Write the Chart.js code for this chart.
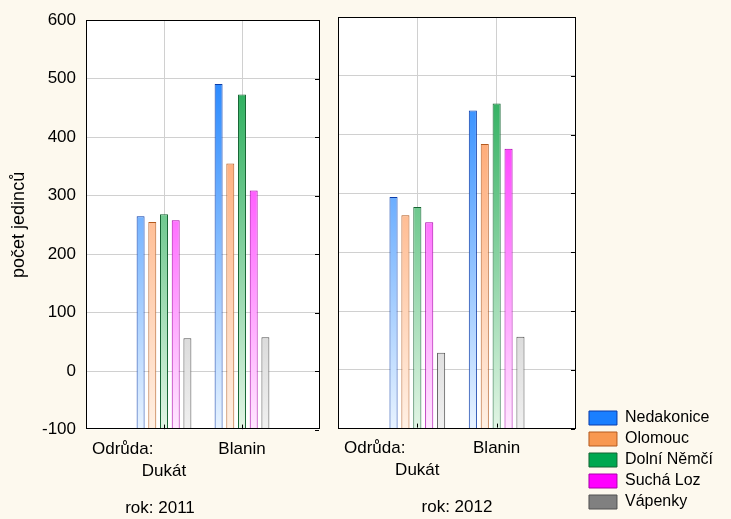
<!DOCTYPE html>
<html>
<head>
<meta charset="utf-8">
<script src="https://cdn.jsdelivr.net/npm/chart.js@4.4.1/dist/chart.umd.min.js"></script>
<style>
  body { margin: 0; background: #fdf9ee; }
  #wrap { position: relative; width: 731px; height: 519px; }
  canvas { position: absolute; top: 0; }
  #c2011 { left: 0; }
  #c2012 { left: 330px; }
</style>
</head>
<body>
<div id="wrap">
  <canvas id="c2011" width="330" height="519"></canvas>
  <canvas id="c2012" width="401" height="519"></canvas>
</div>
<script>
// kategorie na ose x a lokality (řady)
const odrudy = ['Dukát', 'Blanin'];
const lokality = ['Nedakonice', 'Olomouc', 'Dolní Němčí', 'Suchá Loz', 'Vápenky'];

// počet jedinců 2011 (Dukát, Blanin)
const nedakonice2011 = [265, 491];
const olomouc2011 = [255, 355];
const dolniNemci2011 = [268, 473];
const suchaLoz2011 = [258, 309];
const vapenky2011 = [56, 58];

// počet jedinců 2012 (Dukát, Blanin)
const nedakonice2012 = [294, 441];
const olomouc2012 = [263, 384];
const dolniNemci2012 = [277, 453];
const suchaLoz2012 = [251, 376];
const vapenky2012 = [29, 56];

// osa y
const yMin = -100;
const yMax = 600;
const yStep = 100;

// barvy
const topColors = ['rgb(10,120,255)', 'rgb(255,143,75)', 'rgb(9,161,67)', 'rgb(255,0,255)', 'rgb(150,150,150)'];
const bottomColors = ['rgb(232,243,255)', 'rgb(255,240,228)', 'rgb(226,245,229)', 'rgb(255,232,255)', 'rgb(240,240,240)'];
const borderColors = ['rgb(10,60,170)', 'rgb(180,90,30)', 'rgb(20,100,50)', 'rgb(170,0,170)', 'rgb(80,80,80)'];
const legendColors = ['#1a7fff', '#f89850', '#00a850', '#ff00ff', '#808080'];
const gridColor = '#d0d0d0';

Chart.defaults.font.family = '"Liberation Sans", Arial, sans-serif';
Chart.defaults.color = '#000';

function gradientFill(i) {
  return (c) => {
    const area = c.chart.chartArea;
    if (!area) return topColors[i];
    const g = c.chart.ctx.createLinearGradient(0, area.top, 0, area.bottom);
    g.addColorStop(0, topColors[i]);
    g.addColorStop(1, bottomColors[i]);
    return g;
  };
}

// bílé pozadí, rámeček, vnitřní značky a popisek "Odrůda:"
const frame = {
  id: 'frame',
  beforeDraw(chart) {
    const { ctx, chartArea: a } = chart;
    ctx.save();
    ctx.fillStyle = '#fff';
    ctx.fillRect(a.left, a.top, a.width, a.height);
    ctx.restore();
  },
  afterDatasetsDraw(chart) {
    const { ctx, chartArea: a, scales } = chart;
    ctx.save();
    ctx.strokeStyle = '#000';
    ctx.lineWidth = 1;
    ctx.strokeRect(Math.round(a.left) + 0.5, Math.round(a.top) + 0.5, Math.round(a.width) - 1, Math.round(a.height) - 1);
    ctx.beginPath();
    scales.y.ticks.forEach(t => {
      const y = Math.round(scales.y.getPixelForValue(t.value)) + 0.5;
      ctx.moveTo(a.right - 5, y);
      ctx.lineTo(a.right - 1, y);
    });
    odrudy.forEach((o, i) => {
      const x = Math.round(scales.x.getPixelForValue(i + 1)) + 0.5;
      ctx.moveTo(x, a.bottom - 1);
      ctx.lineTo(x, a.bottom - 5);
    });
    ctx.stroke();
    ctx.fillStyle = '#000';
    ctx.font = '17px "Liberation Sans", Arial, sans-serif';
    ctx.textAlign = 'left';
    ctx.textBaseline = 'middle';
    ctx.fillText('Odrůda:', a.left + 6, a.bottom + 20);
    ctx.restore();
  }
};

function makeChart(id, rok, rady, first) {
  const datasets = rady.map((vals, i) => ({
    label: lokality[i],
    data: [null, ...vals, null],
    base: yMin,
    backgroundColor: gradientFill(i),
    borderColor: borderColors[i],
    borderWidth: 1,
    borderSkipped: 'start',
    barPercentage: 0.68,
    categoryPercentage: 0.75
  }));

  const scales = {
    x: {
      offset: false,
      grid: {
        offset: false,
        color: (c) => (c.index === 0 || c.index === odrudy.length + 1) ? 'rgba(0,0,0,0)' : gridColor,
        drawTicks: false
      },
      border: { display: false },
      ticks: {
        autoSkip: false,
        maxRotation: 0,
        padding: 8,
        font: { size: 17, lineHeight: 1.33 },
        callback: function (v, i) {
          const l = this.getLabelForValue(v);
          return i === 1 ? ['', l] : l;
        }
      },
      afterFit: (s) => { s.height = 60; }
    },
    y: {
      min: yMin,
      max: yMax,
      grid: {
        color: (c) => (c.tick && (c.tick.value === yMin || c.tick.value === yMax)) ? 'rgba(0,0,0,0)' : gridColor,
        drawTicks: false
      },
      border: { display: false },
      ticks: {
        stepSize: yStep,
        display: first,
        padding: 10,
        font: { size: 17 }
      },
      title: {
        display: first,
        text: 'počet jedinců',
        font: { size: 18 },
        padding: { top: 8, bottom: 0 }
      },
      afterFit: (s) => { s.width = first ? 86 : 0; }
    }
  };
  if (!first) {
    // mezera mezi grafem a legendou
    scales.y2 = {
      type: 'linear',
      position: 'right',
      grid: { display: false, drawTicks: false },
      border: { display: false },
      ticks: { display: false },
      afterFit: (s) => { s.width = 8; }
    };
  }

  return new Chart(document.getElementById(id), {
    type: 'bar',
    data: { labels: ['', ...odrudy, ''], datasets: datasets },
    options: {
      responsive: false,
      animation: false,
      events: [],
      layout: {
        padding: first ? { left: 0, right: 10, top: 17, bottom: 0 } : { left: 8, right: 8, top: 17, bottom: 4 }
      },
      scales: scales,
      plugins: {
        tooltip: { enabled: false },
        legend: {
          display: !first,
          position: 'right',
          align: 'end',
          maxWidth: 200,
          labels: {
            boxWidth: 28,
            boxHeight: 14,
            padding: 5,
            font: { size: 16 },
            generateLabels(chart) {
              return Chart.defaults.plugins.legend.labels.generateLabels(chart).map((item, i) => ({
                ...item,
                fillStyle: legendColors[i],
                strokeStyle: borderColors[i],
                lineWidth: 1
              }));
            }
          }
        },
        title: {
          display: true,
          text: 'rok: ' + rok,
          position: 'bottom',
          fullSize: first,
          font: { size: 17, weight: 'normal', lineHeight: 1.2 },
          padding: first ? { top: 9, bottom: 0 } : { top: 9, bottom: -3 }
        }
      }
    },
    plugins: [frame]
  });
}

makeChart('c2011', 2011, [nedakonice2011, olomouc2011, dolniNemci2011, suchaLoz2011, vapenky2011], true);
makeChart('c2012', 2012, [nedakonice2012, olomouc2012, dolniNemci2012, suchaLoz2012, vapenky2012], false);
</script>
</body>
</html>
